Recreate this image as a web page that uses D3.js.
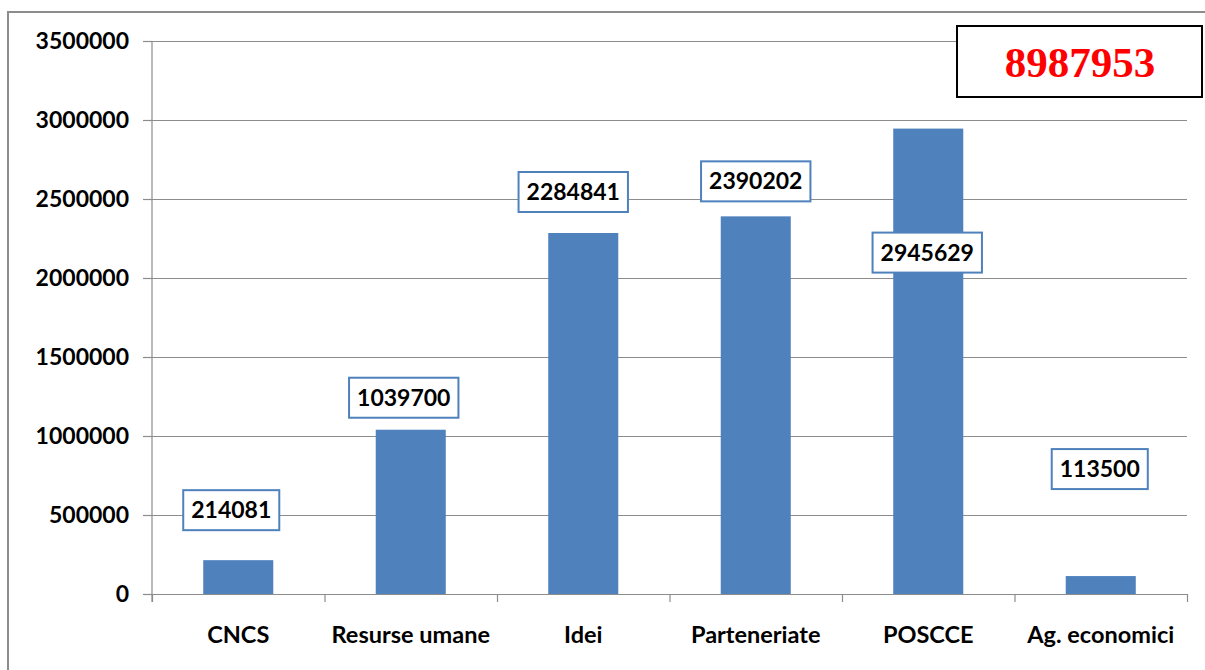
<!DOCTYPE html>
<html>
<head>
<meta charset="utf-8">
<script src="https://cdn.jsdelivr.net/npm/d3@7"></script>
<style>
  body { margin: 0; background: #fff; }
  svg text { font-family: Lato, "Open Sans", sans-serif; font-weight: bold; }
</style>
</head>
<body>
<div id="chart"></div>
<script>
// data
var categories = ["CNCS", "Resurse umane", "Idei", "Parteneriate", "POSCCE", "Ag. economici"];
var values = [214081, 1039700, 2284841, 2390202, 2945629, 113500];
var yTicks = [0, 500000, 1000000, 1500000, 2000000, 2500000, 3000000, 3500000];
var totalLabel = "8987953";

// where each value label sits relative to its bar top (manual, as in the original)
var labelDy = [-50, -32, -41, -35, 124, -107];
var labelDx = [-7, -7, -10, 0, -1, -1];

var width = 1205, height = 670;
var margin = {top: 41, right: 18, bottom: 76, left: 152};

var svg = d3.select("#chart")
  .append("svg")
  .attr("width", width)
  .attr("height", height);

// outer frame
svg.append("rect")
  .attr("x", 8).attr("y", 12)
  .attr("width", width + 10).attr("height", height + 10)
  .attr("fill", "none")
  .attr("stroke", "#8c8c8c")
  .attr("stroke-width", 2);

var xScale = d3.scaleBand()
  .domain(categories)
  .range([margin.left, width - margin.right])
  .paddingInner(0.594)
  .paddingOuter(0.297);

var xEdges = d3.scaleLinear()
  .domain([0, categories.length])
  .range([margin.left, width - margin.right]);

var yScale = d3.scaleLinear()
  .domain([0, 3500000])
  .range([height - margin.bottom, margin.top]);

// grid
var yGrid = d3.axisLeft(yScale)
  .tickValues(yTicks)
  .tickSize(-(width - margin.right - margin.left))
  .tickFormat("");

svg.append("g")
  .attr("class", "grid")
  .attr("transform", `translate(${margin.left},0)`)
  .call(yGrid)
  .call(g => g.select(".domain").remove())
  .selectAll("line")
  .attr("stroke", "#8c8c8c")
  .attr("stroke-width", 1.2);

// bars
svg.selectAll(".bar")
  .data(values)
  .enter()
  .append("rect")
  .attr("class", "bar")
  .attr("x", (d, i) => xScale(categories[i]))
  .attr("y", d => yScale(d))
  .attr("width", xScale.bandwidth())
  .attr("height", d => yScale(0) - yScale(d))
  .attr("fill", "#4f81bd");

// y axis
var yAxis = d3.axisLeft(yScale)
  .tickValues(yTicks)
  .tickSize(9)
  .tickPadding(14)
  .tickFormat(d => d);

svg.append("g")
  .attr("class", "y-axis")
  .attr("transform", `translate(${margin.left},0)`)
  .call(yAxis)
  .call(g => g.select(".domain").attr("d", `M0,${margin.top}V${height - margin.bottom + 8}`))
  .call(g => g.selectAll("path, line").attr("stroke", "#8c8c8c").attr("stroke-width", 1.2))
  .selectAll("text")
  .attr("font-size", "23px")
  .attr("fill", "#000");

// x axis: ticks at category edges, labels centred
var xAxis = d3.axisBottom(xEdges)
  .tickValues(d3.range(categories.length + 1))
  .tickSize(8)
  .tickSizeOuter(0)
  .tickFormat("");

svg.append("g")
  .attr("class", "x-axis")
  .attr("transform", `translate(0,${yScale(0)})`)
  .call(xAxis)
  .call(g => g.selectAll("path, line").attr("stroke", "#8c8c8c").attr("stroke-width", 1.2));

svg.selectAll(".x-label")
  .data(categories)
  .enter()
  .append("text")
  .attr("class", "x-label")
  .attr("x", d => xScale(d) + xScale.bandwidth() / 2)
  .attr("y", yScale(0) + 49)
  .attr("text-anchor", "middle")
  .attr("font-size", "23.5px")
  .attr("fill", "#000")
  .text(d => d);

// value labels in boxes
var labels = svg.selectAll(".val")
  .data(values)
  .enter()
  .append("g")
  .attr("class", "val")
  .attr("transform", (d, i) => `translate(${xScale(categories[i]) + xScale.bandwidth() / 2 + labelDx[i]},${yScale(d) + labelDy[i]})`);

labels.append("text")
  .attr("text-anchor", "middle")
  .attr("dy", "0.35em")
  .attr("font-size", "23px")
  .attr("fill", "#000")
  .text(d => d);

labels.each(function() {
  var g = d3.select(this);
  var bb = g.select("text").node().getBBox();
  var w = bb.width + 16, h = 40;
  g.insert("rect", "text")
    .attr("x", -w / 2).attr("y", -h / 2)
    .attr("width", w).attr("height", h)
    .attr("fill", "#fff")
    .attr("stroke", "#4f81bd")
    .attr("stroke-width", 2);
});

// total box
svg.append("rect")
  .attr("x", 957).attr("y", 26)
  .attr("width", 245).attr("height", 71)
  .attr("fill", "#fff")
  .attr("stroke", "#000")
  .attr("stroke-width", 2);

svg.append("text")
  .attr("x", 1080)
  .attr("y", 77)
  .attr("text-anchor", "middle")
  .style("font-family", "'Liberation Serif', 'Times New Roman', serif")
  .attr("font-size", "43px")
  .attr("fill", "#ff0000")
  .text(totalLabel);
</script>
</body>
</html>
